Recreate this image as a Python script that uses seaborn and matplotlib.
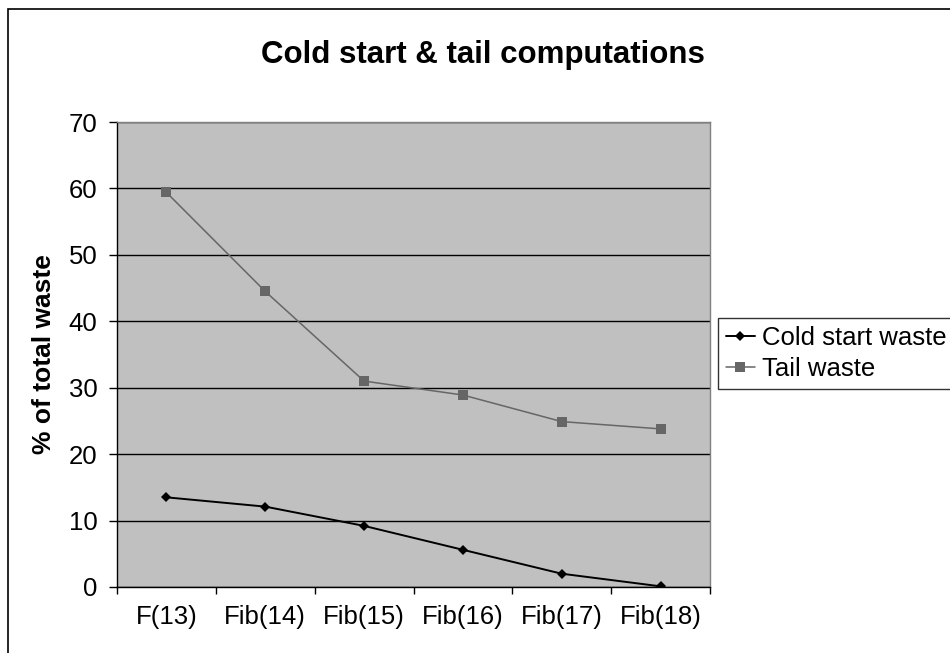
import matplotlib
matplotlib.use("Agg")
import matplotlib.pyplot as plt
import matplotlib.patches as patches
from matplotlib.ticker import FixedLocator, NullFormatter
import pandas as pd
import seaborn as sns

# ── DATA ──────────────────────────────────────────────────────────────────────
CATEGORIES = ["F(13)", "Fib(14)", "Fib(15)", "Fib(16)", "Fib(17)", "Fib(18)"]
COLD_START = [13.5, 12.1, 9.2, 5.6, 2.0, 0.1]
TAIL_WASTE = [59.4, 44.5, 31.0, 28.9, 24.9, 23.8]
SERIES     = ["Cold start waste", "Tail waste"]
Y_TICKS    = [0, 10, 20, 30, 40, 50, 60, 70]

sns.set_theme(style="white")
plt.rcParams["font.family"] = ["Liberation Sans", "DejaVu Sans"]
plt.rcParams.update({"text.color": "black", "axes.labelcolor": "black",
                     "xtick.color": "black", "ytick.color": "black"})

df = pd.DataFrame({
    "idx":    list(range(len(CATEGORIES))) * 2,
    "value":  COLD_START + TAIL_WASTE,
    "series": [SERIES[0]] * len(CATEGORIES) + [SERIES[1]] * len(CATEGORIES),
})

W, H = 950, 653
fig = plt.figure(figsize=(W / 100, H / 100), dpi=100)
ax = fig.add_axes([117/W, 1 - 587/H, (710-117)/W, (587-122)/H])
ax.set_facecolor("#c0c0c0")

sns.lineplot(data=df, x="idx", y="value", hue="series", style="series",
             palette={SERIES[0]: "black", SERIES[1]: "#666666"},
             markers={SERIES[0]: "D", SERIES[1]: "s"},
             dashes=False, markeredgewidth=0, ax=ax, legend=True, zorder=3)
for ln in ax.lines:
    if ln.get_marker() == "D":
        ln.set_markersize(5.5)
        ln.set_linewidth(1.4)
    else:
        ln.set_markersize(6.5)
        ln.set_linewidth(1.1)

ax.set_xlim(-0.5, len(CATEGORIES) - 0.5)
ax.set_ylim(0, 70)
ax.set_yticks(Y_TICKS)
ax.yaxis.grid(True, color="black", linewidth=1.0)
ax.set_axisbelow(True)

# category boundaries as tick marks, labels centred between them
ax.xaxis.set_major_locator(FixedLocator([i - 0.5 for i in range(len(CATEGORIES) + 1)]))
ax.xaxis.set_major_formatter(NullFormatter())
ax.xaxis.set_minor_locator(FixedLocator(list(range(len(CATEGORIES)))))
ax.set_xticklabels(CATEGORIES, minor=True)
ax.tick_params(axis="x", which="major", direction="out", length=5, width=1, color="black", bottom=True)
ax.tick_params(axis="x", which="minor", length=0, pad=13, labelsize=18.5)
ax.tick_params(axis="y", direction="out", length=6, width=1, color="black", left=True,
               labelsize=18.5, pad=8)

for side in ["left", "bottom"]:
    ax.spines[side].set_color("black")
    ax.spines[side].set_linewidth(1.0)
for side in ["top", "right"]:
    ax.spines[side].set_color("#808080")
    ax.spines[side].set_linewidth(1.0)

ax.set_xlabel("")
ax.set_ylabel("% of total waste", fontsize=19, fontweight="bold", labelpad=9)

handles, labels = ax.get_legend_handles_labels()
ax.get_legend().remove()
leg = fig.legend(handles, labels, loc="upper left",
                 bbox_to_anchor=(718/W, 1 - 318/H),
                 frameon=True, fancybox=False, fontsize=18.5,
                 handlelength=1.15, handletextpad=0.25, borderpad=0.3,
                 labelspacing=0.3, borderaxespad=0)
leg.get_frame().set_edgecolor("black")
leg.get_frame().set_linewidth(1.0)

fig.suptitle("Cold start & tail computations", x=483/W, y=1 - 40/H,
             fontsize=22.5, fontweight="bold")

# outer chart-area border (runs off the right and bottom edges)
fig.patches.append(patches.Rectangle((8/W, -0.1), 1.0, 1 - 9/H + 0.1,
                                     transform=fig.transFigure, fill=False,
                                     edgecolor="black", linewidth=1.2))

fig.savefig("out.png", dpi=100)
